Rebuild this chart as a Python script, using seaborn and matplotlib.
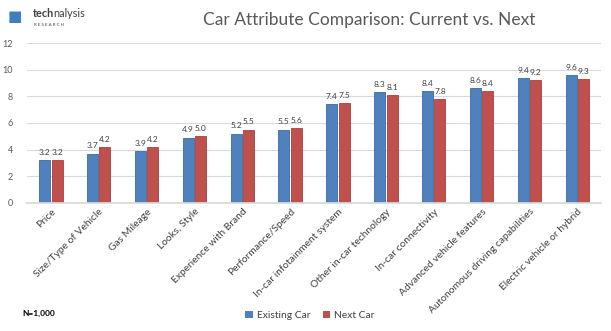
import matplotlib
matplotlib.use("Agg")
import matplotlib.pyplot as plt
import seaborn as sns
import pandas as pd

categories = ["Price", "Size/Type of Vehicle", "Gas Mileage", "Looks, Style",
              "Experience with Brand", "Performance/Speed", "In-car infotainment system",
              "Other in-car technology", "In-car connectivity", "Advanced vehicle features",
              "Autonomous driving capabilities", "Electric vehicle or hybrid"]
existing = [3.2, 3.7, 3.9, 4.9, 5.2, 5.5, 7.4, 8.3, 8.4, 8.6, 9.4, 9.6]
next_car = [3.2, 4.2, 4.2, 5.0, 5.5, 5.6, 7.5, 8.1, 7.8, 8.4, 9.2, 9.3]
series = ["Existing Car", "Next Car"]
yticks = [0, 2, 4, 6, 8, 10, 12]

sns.set_theme(style="white")
plt.rcParams['font.family'] = ['Lato', 'DejaVu Sans']

df = pd.DataFrame({
    "cat": categories * 2,
    "val": existing + next_car,
    "series": [series[0]] * len(categories) + [series[1]] * len(categories),
})

fig = plt.figure(figsize=(6.11, 3.31), dpi=100)
ax = fig.add_axes([0.044, 0.387, 0.940, 0.483])
palette = {"Existing Car": "#4F81BD", "Next Car": "#C0504D"}
sns.barplot(data=df, x="cat", y="val", hue="series", palette=palette, ax=ax,
            width=0.52, gap=0.12, edgecolor=None, linewidth=0, saturation=1, legend=True)
edge = {"Existing Car": "#3A6AA8", "Next Car": "#A93F3C"}
for cont, s in zip(ax.containers, series):
    for p in cont.patches:
        p.set_edgecolor(edge[s])
        p.set_linewidth(0.6)
    ax.bar_label(cont, fmt="%.1f", padding=3, fontsize=6, color="#404040")

ax.set_ylim(0, 12)
ax.set_yticks(yticks)
ax.set_yticklabels([str(t) for t in yticks], fontsize=6.5, color="#595959")
ax.yaxis.grid(True, color="#D9D9D9", linewidth=0.8)
ax.set_axisbelow(True)
ax.set_xlim(-0.5, len(categories) - 0.5)
for s in ["top", "right", "left"]:
    ax.spines[s].set_visible(False)
ax.spines["bottom"].set_color("#D9D9D9")
ax.tick_params(axis="y", length=0, pad=10)
ax.tick_params(axis="x", length=0, pad=3)
ax.set_xticks(range(len(categories)))
ax.set_xticklabels(categories, rotation=45, ha="right", rotation_mode="anchor",
                   fontsize=7.4, color="#404040")
ax.set_xlabel("")
ax.set_ylabel("")

handles, labels = ax.get_legend_handles_labels()
ax.get_legend().remove()
leg = fig.legend(handles, labels, loc="center", bbox_to_anchor=(0.507, 0.048), ncol=2,
                 frameon=False, fontsize=7.4, handlelength=0.7, handleheight=0.7,
                 columnspacing=1.2, handletextpad=0.4)
for t in leg.get_texts():
    t.set_color("#404040")

fig.text(0.605, 0.94, "Car Attribute Comparison: Current vs. Next", ha="center", va="center",
         fontsize=12.5, color="#595959")
fig.text(0.036, 0.054, "N=1,000", fontsize=6, fontweight="bold", ha="left", va="center",
         color="black")

# logo
fig.canvas.draw()
renderer = fig.canvas.get_renderer()
t1 = fig.text(0.054, 0.96, "tech", fontsize=7.8, fontweight="bold", ha="left", va="center",
              color="#404040")
bb = t1.get_window_extent(renderer=renderer).transformed(fig.transFigure.inverted())
fig.text(bb.x1 - 0.002, 0.96, "nalysis", fontsize=7.8, ha="left", va="center", color="#404040")
fig.text(0.056, 0.925, "R E S E A R C H", fontsize=3.2, ha="left", va="center", color="#404040")
fig.text(0.012, 0.95, "\u25A0", fontsize=11, ha="left", va="center", color="#3F7FBF")

fig.savefig("out.png", dpi=100)
